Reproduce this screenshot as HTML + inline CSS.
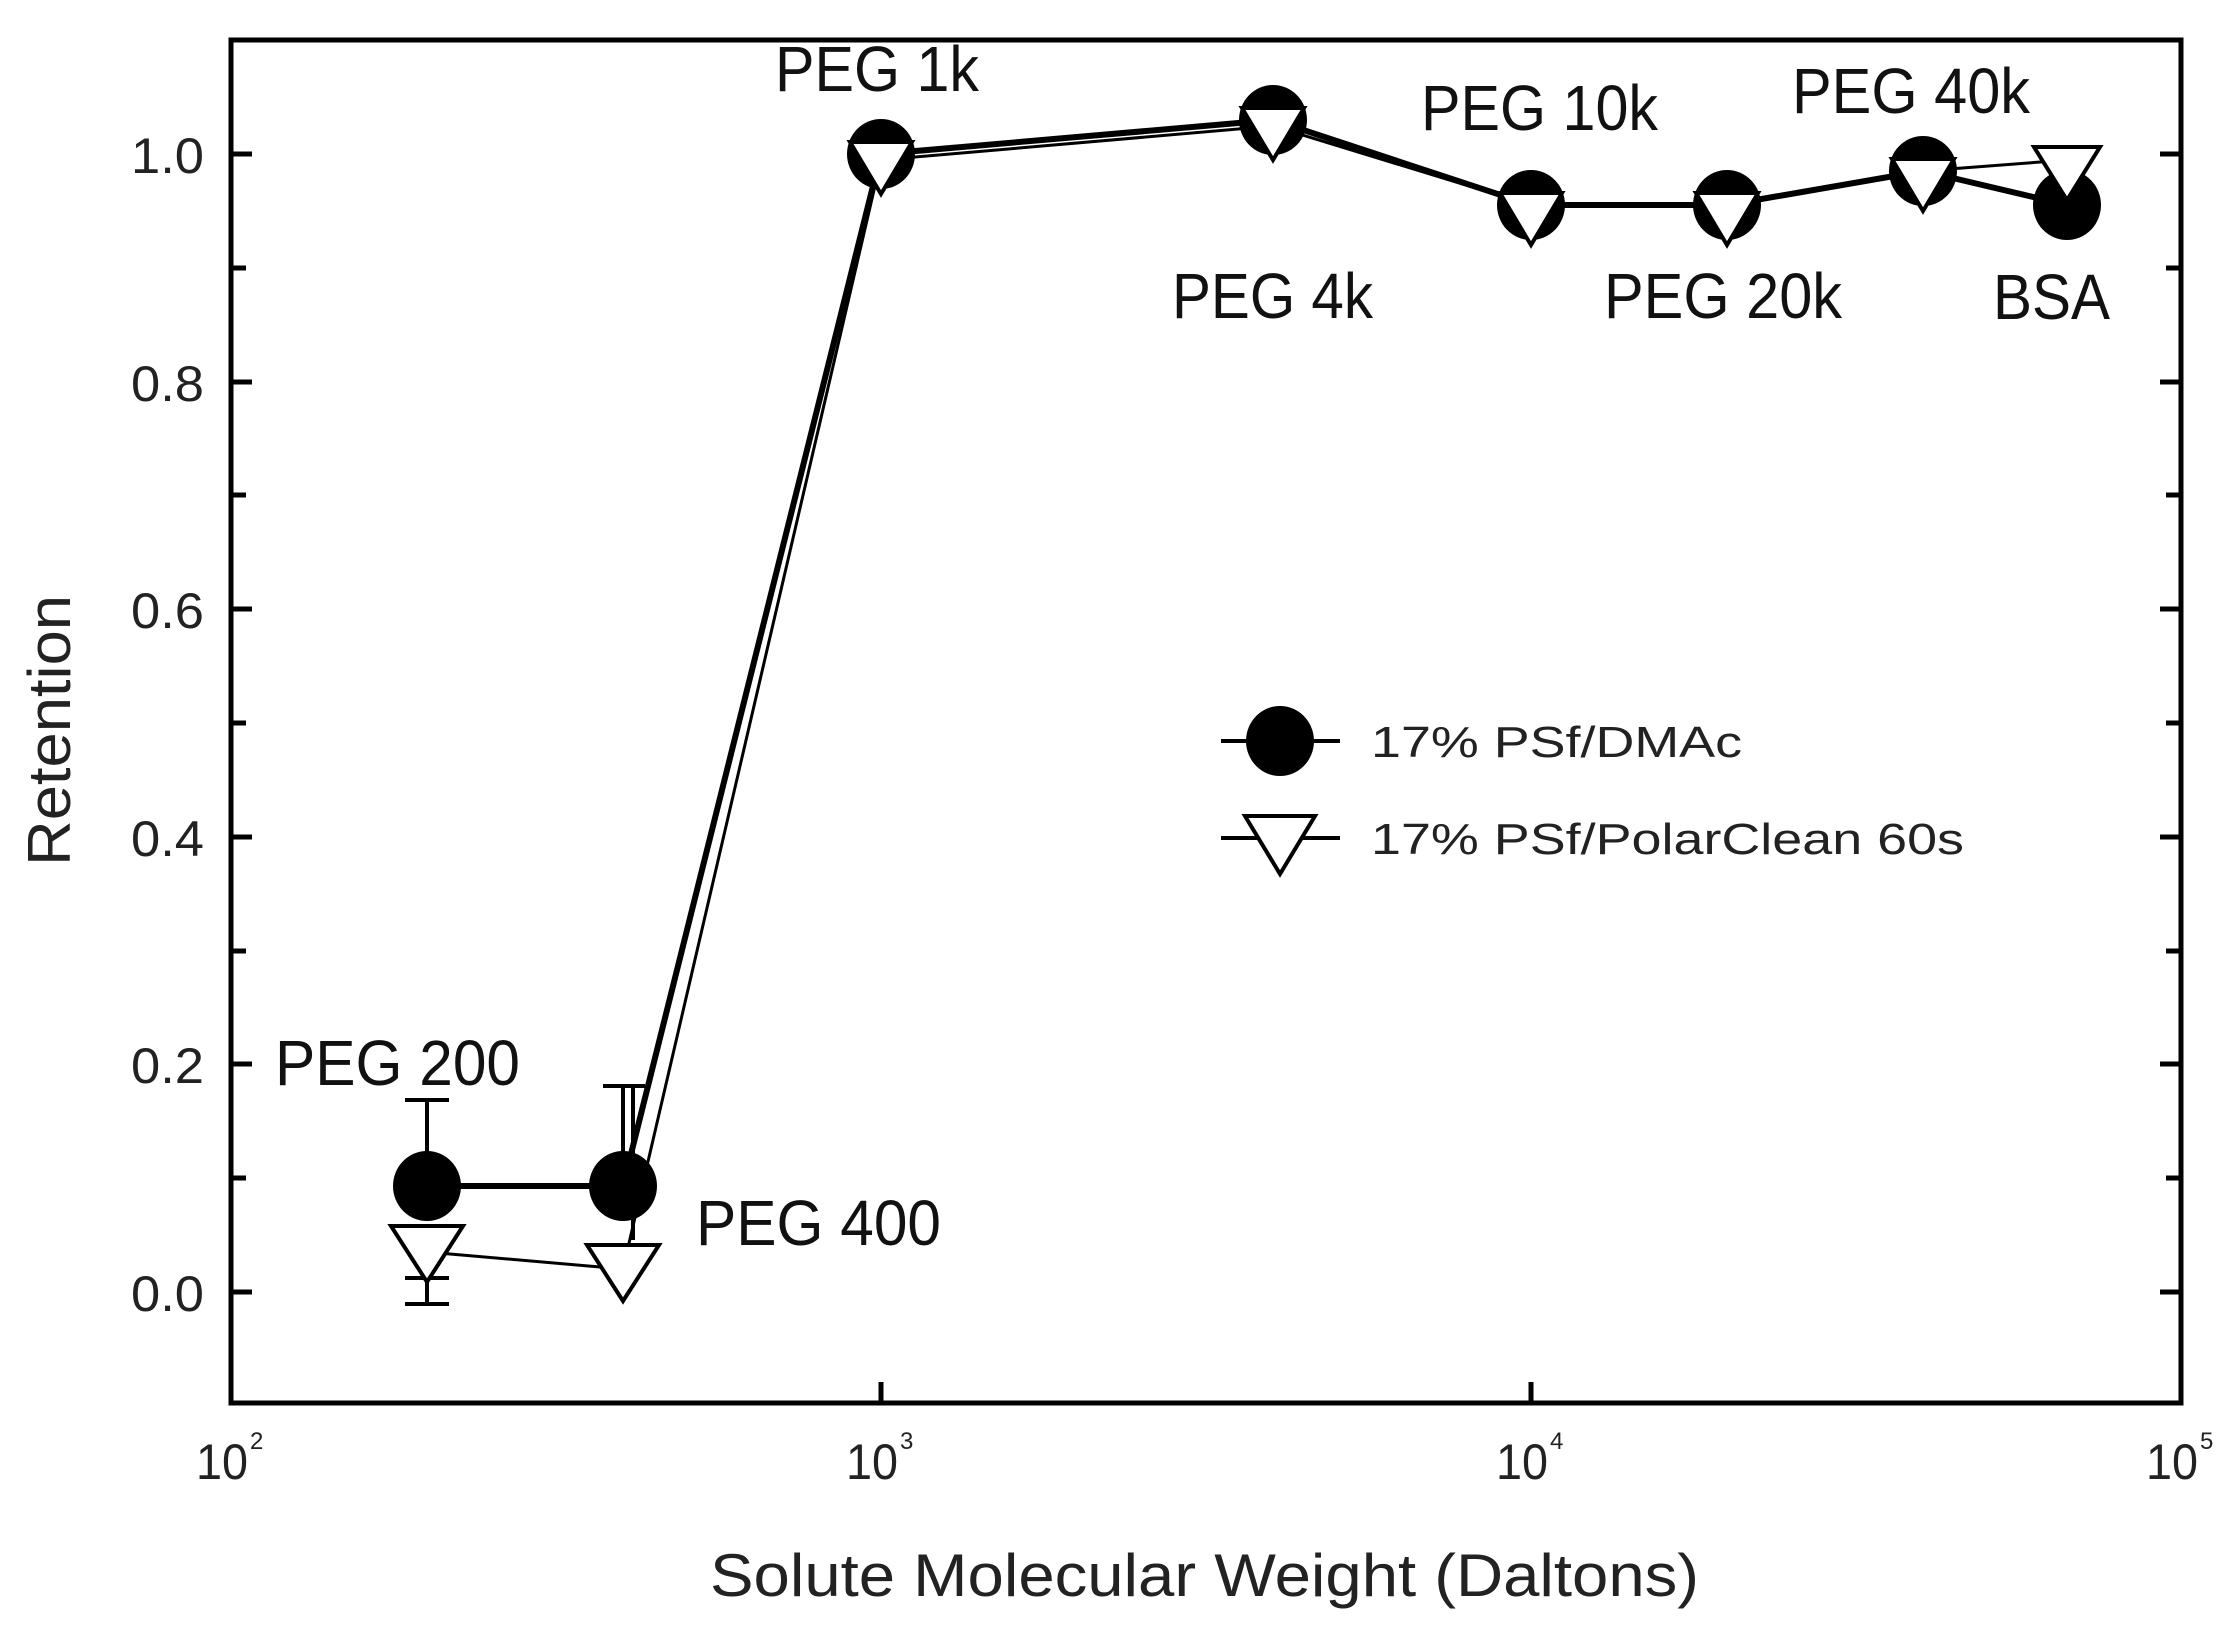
<!DOCTYPE html>
<html><head><meta charset="utf-8"><style>html,body{margin:0;padding:0;background:#fff}svg{display:block}</style></head>
<body>
<svg width="2235" height="1628" viewBox="0 0 2235 1628" xmlns="http://www.w3.org/2000/svg" font-family="'Liberation Sans', sans-serif">
<rect width="2235" height="1628" fill="#fff"/>
<rect x="231" y="40" width="1950" height="1363" fill="none" stroke="#000" stroke-width="5"/>
<g stroke="#000" stroke-width="5">
<line x1="231" y1="1292" x2="252" y2="1292"/><line x1="231" y1="1178" x2="246" y2="1178"/>
<line x1="231" y1="1064" x2="252" y2="1064"/><line x1="231" y1="951" x2="246" y2="951"/>
<line x1="231" y1="837" x2="252" y2="837"/><line x1="231" y1="723" x2="246" y2="723"/>
<line x1="231" y1="609" x2="252" y2="609"/><line x1="231" y1="495" x2="246" y2="495"/>
<line x1="231" y1="382" x2="252" y2="382"/><line x1="231" y1="268" x2="246" y2="268"/>
<line x1="231" y1="154" x2="252" y2="154"/>
<line x1="2181" y1="1292" x2="2160" y2="1292"/><line x1="2181" y1="1178" x2="2166" y2="1178"/>
<line x1="2181" y1="1064" x2="2160" y2="1064"/><line x1="2181" y1="951" x2="2166" y2="951"/>
<line x1="2181" y1="837" x2="2160" y2="837"/><line x1="2181" y1="723" x2="2166" y2="723"/>
<line x1="2181" y1="609" x2="2160" y2="609"/><line x1="2181" y1="495" x2="2166" y2="495"/>
<line x1="2181" y1="382" x2="2160" y2="382"/><line x1="2181" y1="268" x2="2166" y2="268"/>
<line x1="2181" y1="154" x2="2160" y2="154"/>
<line x1="881" y1="1403" x2="881" y2="1382"/><line x1="1531" y1="1403" x2="1531" y2="1382"/>
</g>
<g font-size="50" fill="#222" text-anchor="end">
<text x="204" y="1311" textLength="73" lengthAdjust="spacingAndGlyphs">0.0</text>
<text x="204" y="1083" textLength="73" lengthAdjust="spacingAndGlyphs">0.2</text>
<text x="204" y="856" textLength="73" lengthAdjust="spacingAndGlyphs">0.4</text>
<text x="204" y="628" textLength="73" lengthAdjust="spacingAndGlyphs">0.6</text>
<text x="204" y="401" textLength="73" lengthAdjust="spacingAndGlyphs">0.8</text>
<text x="204" y="173" textLength="73" lengthAdjust="spacingAndGlyphs">1.0</text>
</g>
<g font-size="50" fill="#222">
<text x="196" y="1479" textLength="52" lengthAdjust="spacingAndGlyphs">10</text><text x="250" y="1449" font-size="24">2</text>
<text x="846" y="1479" textLength="52" lengthAdjust="spacingAndGlyphs">10</text><text x="900" y="1449" font-size="24">3</text>
<text x="1496" y="1479" textLength="52" lengthAdjust="spacingAndGlyphs">10</text><text x="1550" y="1449" font-size="24">4</text>
<text x="2146" y="1479" textLength="52" lengthAdjust="spacingAndGlyphs">10</text><text x="2200" y="1449" font-size="24">5</text>
</g>
<text x="710" y="1596" font-size="60" fill="#222" textLength="989" lengthAdjust="spacingAndGlyphs">Solute Molecular Weight (Daltons)</text>
<text transform="translate(70,866) rotate(-90)" font-size="60" fill="#222" textLength="271" lengthAdjust="spacingAndGlyphs">Retention</text>
<g stroke="#000" stroke-width="4">
<line x1="427" y1="1186" x2="427" y2="1100"/><line x1="405" y1="1100" x2="449" y2="1100"/>
<line x1="427" y1="1245" x2="427" y2="1304"/><line x1="405" y1="1304" x2="449" y2="1304"/>
<line x1="405" y1="1278" x2="449" y2="1278"/>
<line x1="623" y1="1186" x2="623" y2="1086"/><line x1="603" y1="1086" x2="645" y2="1086"/>
<line x1="633" y1="1086" x2="633" y2="1240"/>
</g>
<polyline fill="none" stroke="#000" stroke-width="6" points="427,1186 623,1186 881,154 1273,120 1531,205 1727,205 1923,171 2067,205"/>
<polyline fill="none" stroke="#000" stroke-width="3" points="427,1252 623,1269 881,160 1273,126 1531,205 1727,205 1923,171 2067,160"/>
<g fill="#000">
<ellipse cx="427" cy="1186" rx="34" ry="35"/><ellipse cx="623" cy="1186" rx="34" ry="35"/>
<ellipse cx="881" cy="154" rx="34" ry="35"/><ellipse cx="1273" cy="120" rx="34" ry="35"/>
<ellipse cx="1531" cy="205" rx="34" ry="35"/><ellipse cx="1727" cy="205" rx="34" ry="35"/>
<ellipse cx="1923" cy="171" rx="34" ry="35"/><ellipse cx="2067" cy="205" rx="34" ry="35"/>
</g>
<g fill="#fff" stroke="#000" stroke-width="4">
<polygon points="391,1226 463,1226 427,1282"/>
<polygon points="587,1245 659,1245 623,1301"/>
<polygon points="850,142 912,142 881,194"/>
<polygon points="1242,108 1304,108 1273,160"/>
<polygon points="1500,193 1562,193 1531,245"/>
<polygon points="1696,193 1758,193 1727,245"/>
<polygon points="1892,159 1954,159 1923,211"/>
<polygon points="2034,147 2100,147 2067,200"/>
</g>
<g font-size="64" fill="#111">
<text x="775" y="91" textLength="204" lengthAdjust="spacingAndGlyphs">PEG 1k</text>
<text x="1172" y="318" textLength="201" lengthAdjust="spacingAndGlyphs">PEG 4k</text>
<text x="1421" y="130" textLength="237" lengthAdjust="spacingAndGlyphs">PEG 10k</text>
<text x="1604" y="318" textLength="238" lengthAdjust="spacingAndGlyphs">PEG 20k</text>
<text x="1792" y="113" textLength="238" lengthAdjust="spacingAndGlyphs">PEG 40k</text>
<text x="1993" y="319" textLength="117" lengthAdjust="spacingAndGlyphs">BSA</text>
<text x="275" y="1085" textLength="245" lengthAdjust="spacingAndGlyphs">PEG 200</text>
<text x="696" y="1245" textLength="245" lengthAdjust="spacingAndGlyphs">PEG 400</text>
</g>
<g stroke="#000" stroke-width="4">
<line x1="1221" y1="741" x2="1340" y2="741"/>
<line x1="1221" y1="838" x2="1340" y2="838"/>
</g>
<ellipse cx="1280" cy="741" rx="34" ry="35" fill="#000"/>
<polygon points="1245,816 1315,816 1280,874" fill="#fff" stroke="#000" stroke-width="4"/>
<g font-size="44" fill="#222">
<text x="1371" y="757" textLength="371" lengthAdjust="spacingAndGlyphs">17% PSf/DMAc</text>
<text x="1371" y="854" textLength="593" lengthAdjust="spacingAndGlyphs">17% PSf/PolarClean 60s</text>
</g>
</svg>
</body></html>
